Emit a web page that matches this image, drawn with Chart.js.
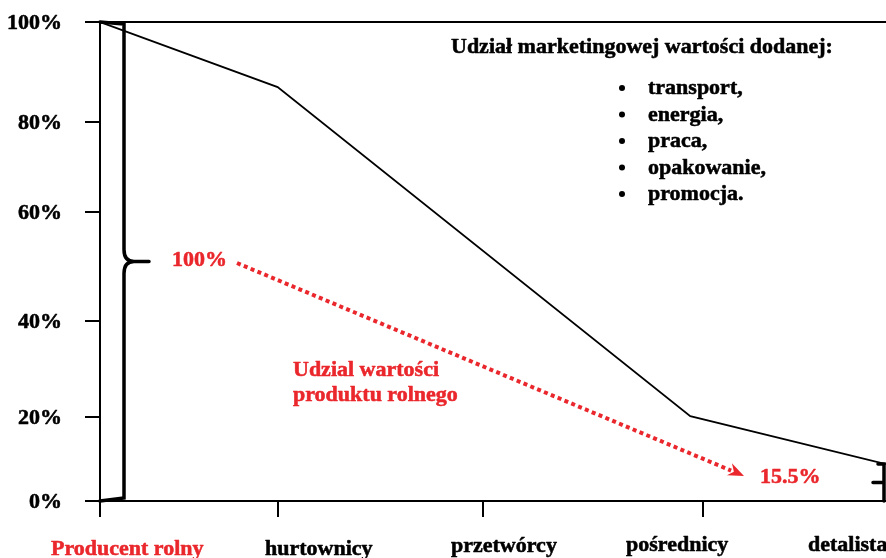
<!DOCTYPE html>
<html>
<head>
<meta charset="utf-8">
<script src="https://cdn.jsdelivr.net/npm/chart.js@4"></script>
<style>
  html, body { margin: 0; padding: 0; background: #fff; }
  #c { display: block; }
</style>
</head>
<body>
<canvas id="c" width="886" height="558"></canvas>
<script>
// ---- data ----
const stages = ['Producent rolny', 'hurtownicy', 'przetwórcy', 'pośrednicy', 'detalista'];
const stageTicks = [0, 22.6, 48.7, 76.7];          // tick positions along the chain (0..100)
const curveX = [0, 22.6, 75.1, 100];               // price build-up curve, chain position
const curveY = [100, 86.4, 17.7, 7.7];             // price build-up curve, % of final price
const yTickValues = [0, 17.5, 37.6, 60.3, 79.1, 100];
const yTickLabels = ['0%', '20%', '40%', '60%', '80%', '100%'];
const farmShareStart = '100%';
const farmShareEnd = '15.5%';
const farmShareLabel = ['Udzial wartości', 'produktu rolnego'];
const noteTitle = 'Udział marketingowej wartości dodanej:';
const noteItems = ['transport,', 'energia,', 'praca,', 'opakowanie,', 'promocja.'];

// ---- layout (pixel) constants, not data ----
const FONT = 'bold 20px "Liberation Serif", "Times New Roman", serif';
const STRETCH = 1.1;
const RED = '#ea272c';
const stageLabelLeft = [51, 265, 451, 626, 808];
const stageLabelBase = [555, 555, 552, 551, 551];

function text(ctx, s, x, y, align) {
  ctx.save();
  ctx.translate(x, y);
  ctx.scale(STRETCH, 1);
  ctx.textAlign = align || 'left';
  ctx.strokeStyle = ctx.fillStyle;
  ctx.lineWidth = 0.5;
  ctx.lineJoin = 'round';
  ctx.fillText(s, 0, 0);
  ctx.strokeText(s, 0, 0);
  ctx.restore();
}

const annotations = {
  id: 'annotations',
  afterDraw(chart) {
    const ctx = chart.ctx;
    const a = chart.chartArea;
    const xs = chart.scales.x, ys = chart.scales.y;
    ctx.save();
    // top frame line
    ctx.strokeStyle = '#000';
    ctx.lineWidth = 2;
    ctx.beginPath();
    ctx.moveTo(a.left, ys.getPixelForValue(100));
    ctx.lineTo(a.right, ys.getPixelForValue(100));
    ctx.stroke();

    // left brace (0..100 %)
    const bx = xs.getPixelForValue(0) + 24;
    const yTop = ys.getPixelForValue(100), yBot = ys.getPixelForValue(0), yMid = ys.getPixelForValue(50);
    ctx.lineWidth = 3.5;
    ctx.lineCap = 'round';
    ctx.beginPath();
    ctx.moveTo(xs.getPixelForValue(0), yTop);
    ctx.lineTo(bx, yTop + 2);
    ctx.lineTo(bx, yMid - 12);
    ctx.quadraticCurveTo(bx, yMid, bx + 10, yMid);
    ctx.lineTo(bx + 25, yMid);
    ctx.moveTo(bx + 10, yMid);
    ctx.quadraticCurveTo(bx, yMid, bx, yMid + 12);
    ctx.lineTo(bx, yBot - 3);
    ctx.lineTo(xs.getPixelForValue(0), yBot);
    ctx.stroke();

    // right brace (0..end value)
    const rx = xs.getPixelForValue(100) - 2;
    const rTop = ys.getPixelForValue(curveY[curveY.length - 1]);
    const rMid = (rTop + yBot) / 2;
    ctx.beginPath();
    ctx.moveTo(rx - 6, rTop);
    ctx.lineTo(rx, rTop);
    ctx.lineTo(rx, yBot);
    ctx.moveTo(rx, rMid);
    ctx.lineTo(rx - 11, rMid);
    ctx.stroke();

    // red dotted arrow
    const ax0 = 237, ay0 = 263, ax1 = 744, ay1 = 476;
    const ang = Math.atan2(ay1 - ay0, ax1 - ax0);
    const c = Math.cos(ang), sn = Math.sin(ang);
    ctx.strokeStyle = RED;
    ctx.fillStyle = RED;
    ctx.lineWidth = 4;
    ctx.lineCap = 'butt';
    ctx.setLineDash([4, 3.4]);
    ctx.beginPath();
    ctx.moveTo(ax0, ay0);
    ctx.lineTo(ax1 - 14 * c, ay1 - 14 * sn);
    ctx.stroke();
    ctx.setLineDash([]);
    ctx.beginPath();
    ctx.moveTo(ax1, ay1);
    ctx.lineTo(ax1 - 16 * c + 7 * sn, ay1 - 16 * sn - 7 * c);
    ctx.lineTo(ax1 - 11 * c, ay1 - 11 * sn);
    ctx.lineTo(ax1 - 16 * c - 6 * sn, ay1 - 16 * sn + 6 * c);
    ctx.closePath();
    ctx.fill();

    // red texts
    ctx.font = FONT;
    ctx.textBaseline = 'alphabetic';
    text(ctx, farmShareStart, 172, 266);
    text(ctx, farmShareLabel[0], 293, 376);
    text(ctx, farmShareLabel[1], 293, 401);
    text(ctx, farmShareEnd, 760, 483);

    // note
    ctx.fillStyle = '#000';
    text(ctx, noteTitle, 451, 53);
    noteItems.forEach((t, i) => {
      const by = 94 + i * 26.5;
      ctx.beginPath();
      ctx.arc(622, by - 6, 3, 0, Math.PI * 2);
      ctx.fill();
      text(ctx, t, 648, by);
    });

    // y tick labels
    yTickValues.forEach((v, i) => {
      text(ctx, yTickLabels[i], a.left - 38, ys.getPixelForValue(v) + 7, 'right');
    });

    // stage labels
    stages.forEach((s, i) => {
      ctx.fillStyle = i === 0 ? RED : '#000';
      text(ctx, s, stageLabelLeft[i], stageLabelBase[i]);
    });
    ctx.restore();
  }
};

new Chart(document.getElementById('c'), {
  type: 'line',
  data: {
    datasets: [{
      data: curveX.map((x, i) => ({ x, y: curveY[i] })),
      borderColor: '#000',
      borderWidth: 1.8,
      pointRadius: 0,
      tension: 0,
      fill: false
    }]
  },
  options: {
    responsive: false,
    animation: false,
    devicePixelRatio: 1,
    layout: { padding: { top: 22, right: 0, left: 0, bottom: 0 } },
    plugins: { legend: { display: false }, tooltip: { enabled: false } },
    scales: {
      x: {
        type: 'linear', min: 0, max: 100,
        afterBuildTicks: s => { s.ticks = stageTicks.map(v => ({ value: v })); },
        afterFit: s => { s.height = 57; s.paddingLeft = 0; s.paddingRight = 0; },
        ticks: { callback: () => '', autoSkip: false },
        grid: { drawOnChartArea: false, drawTicks: true, tickLength: 16, color: '#000', lineWidth: 2 },
        border: { display: true, color: '#000', width: 2 }
      },
      y: {
        type: 'linear', min: 0, max: 100,
        afterBuildTicks: s => { s.ticks = yTickValues.map(v => ({ value: v })); },
        afterFit: s => { s.width = 100; s.paddingTop = 0; s.paddingBottom = 0; },
        ticks: { autoSkip: false, callback: () => '' },
        grid: { drawOnChartArea: false, drawTicks: true, tickLength: 15, color: '#000', lineWidth: 2 },
        border: { display: true, color: '#000', width: 2 }
      }
    }
  },
  plugins: [annotations]
});
</script>
</body>
</html>
